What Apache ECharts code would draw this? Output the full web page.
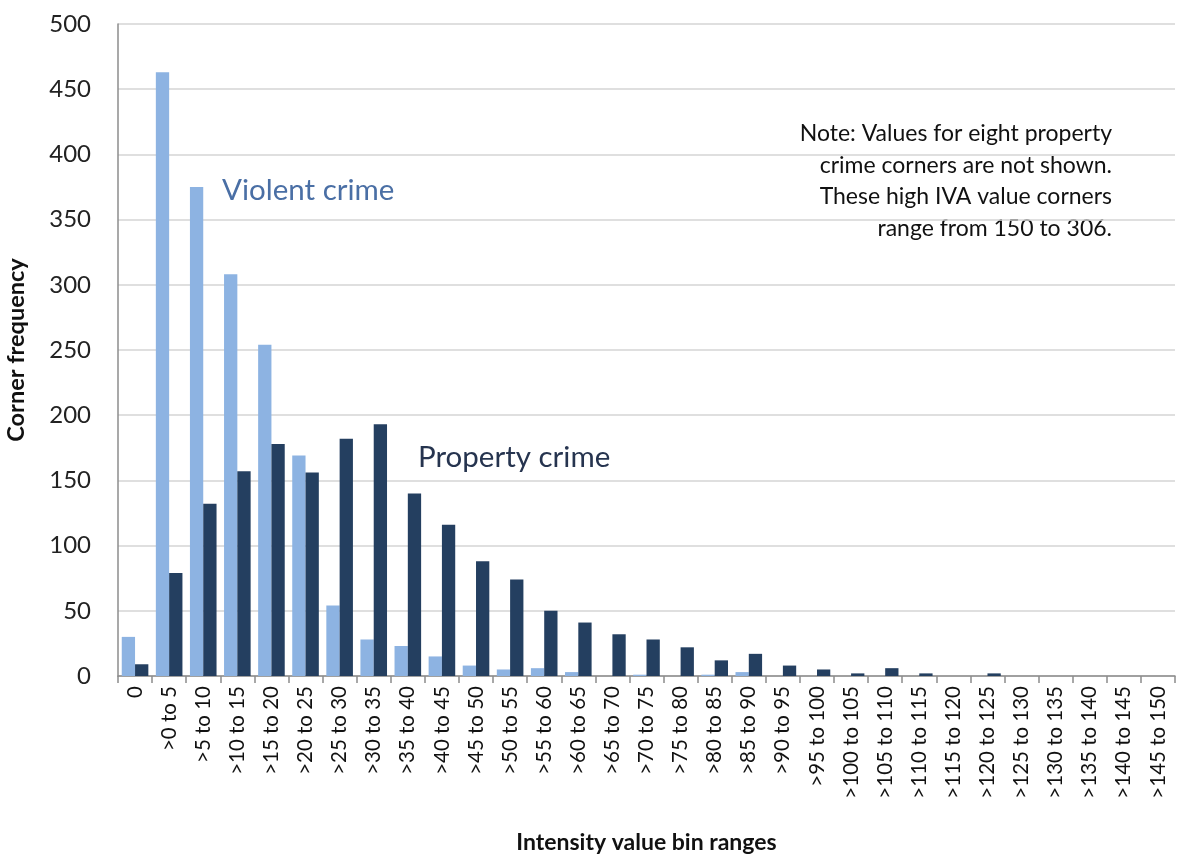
<!DOCTYPE html>
<html>
<head>
<meta charset="utf-8">
<script src="https://cdn.jsdelivr.net/npm/echarts@6/dist/echarts.min.js"></script>
<style>html,body{margin:0;padding:0;background:#fff;}#c{width:1178px;height:856px;}</style>
</head>
<body>
<div id="c"></div>
<script>
const categories = ['0','>0 to 5','>5 to 10','>10 to 15','>15 to 20','>20 to 25','>25 to 30','>30 to 35','>35 to 40','>40 to 45','>45 to 50','>50 to 55','>55 to 60','>60 to 65','>65 to 70','>70 to 75','>75 to 80','>80 to 85','>85 to 90','>90 to 95','>95 to 100','>100 to 105','>105 to 110','>110 to 115','>115 to 120','>120 to 125','>125 to 130','>130 to 135','>135 to 140','>140 to 145','>145 to 150'];
const violentCrime = [30,463,375,308,254,169,54,28,23,15,8,5,6,3,0,1,0,1,3,0,0,0,0,0,0,0,0,0,0,0,0];
const propertyCrime = [9,79,132,157,178,156,182,193,140,116,88,74,50,41,32,28,22,12,17,8,5,2,6,2,0,2,0,0,0,0,0];
const noteLines = ['Note: Values for eight property','crime corners are not shown.','These high IVA value corners','range from 150 to 306.'];

const FONT = 'Lato, "Open Sans", sans-serif';
const chart = echarts.init(document.getElementById('c'));
const noteGraphics = noteLines.map((t, i) => ({
  type: 'text', right: 66, top: 122 + i * 31.7,
  style: {text: t, font: '23px ' + FONT, fill: '#111'}
}));
chart.setOption({
  animation: false,
  grid: {left: 118, right: 3, top: 24, bottom: 180, containLabel: false, outerBoundsMode: 'none'},
  xAxis: {
    type: 'category',
    data: categories,
    name: 'Intensity value bin ranges',
    nameLocation: 'middle',
    nameGap: 155,
    nameTextStyle: {fontFamily: FONT, fontSize: 23, fontWeight: 'bold', color: '#111'},
    axisLine: {lineStyle: {color: '#8c8c8c', width: 1.5}},
    axisTick: {show: true, length: 7, lineStyle: {color: '#8c8c8c', width: 1.5}},
    axisLabel: {rotate: 90, interval: 0, fontFamily: FONT, fontSize: 20.5, color: '#111', margin: 10}
  },
  yAxis: {
    type: 'value',
    min: 0, max: 500, interval: 50,
    name: 'Corner frequency',
    nameLocation: 'middle',
    nameGap: 90,
    nameRotate: 90,
    nameTextStyle: {fontFamily: FONT, fontSize: 23.5, fontWeight: 'bold', color: '#111'},
    axisLine: {show: true, lineStyle: {color: '#8c8c8c', width: 1.5}},
    axisTick: {show: false},
    axisLabel: {fontFamily: FONT, fontSize: 24, color: '#222', margin: 27},
    splitLine: {lineStyle: {color: '#d4d4d4', width: 1.5}}
  },
  series: [
    {name: 'Violent crime', type: 'bar', data: violentCrime, barGap: '0%', barCategoryGap: '22%',
     itemStyle: {color: '#8DB3E2'}},
    {name: 'Property crime', type: 'bar', data: propertyCrime,
     itemStyle: {color: '#243F60'}}
  ],
  graphic: [
    {type: 'text', left: 222, top: 175, style: {text: 'Violent crime', font: '29.5px ' + FONT, fill: '#4A6FA5'}},
    {type: 'text', left: 418, top: 442, style: {text: 'Property crime', font: '29.5px ' + FONT, fill: '#26344f'}}
  ].concat(noteGraphics)
});
</script>
</body>
</html>
